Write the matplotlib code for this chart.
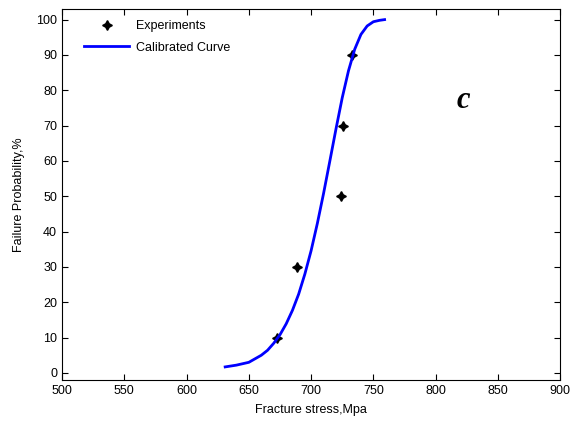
import matplotlib.pyplot as plt

# experimental points
exp_stress = [673, 689, 724, 726, 733]
exp_prob = [10, 30, 50, 70, 90]

# calibrated curve
curve_stress = [631, 640, 650, 660, 665, 670, 675, 680, 685, 690, 695, 700,
                705, 710, 715, 720, 725, 730, 735, 740, 745, 750, 755, 759]
curve_prob = [1.7, 2.2, 3.0, 5.0, 6.4, 8.4, 10.8, 13.9, 17.7, 22.3, 28.0, 34.6,
              42.3, 50.8, 59.9, 69.1, 77.9, 85.5, 91.6, 95.8, 98.2, 99.4, 99.8, 100.0]

xticks = list(range(500, 901, 50))
yticks = list(range(0, 101, 10))

plt.rcParams['font.family'] = ['Liberation Sans', 'DejaVu Sans']

fig = plt.figure(figsize=(5.71, 4.23), dpi=100)
ax = fig.add_axes([0.1086, 0.1017, 0.8725, 0.877])

ax.plot(exp_stress, exp_prob, linestyle='none', marker=(4, 1, 0),
        markersize=7, color='black', label='Experiments')
ax.plot(curve_stress, curve_prob, color='#0000ff', linewidth=2,
        label='Calibrated Curve')

ax.set_xlim(500, 900)
ax.set_ylim(-2, 103)
ax.set_xticks(xticks)
ax.set_yticks(yticks)
ax.tick_params(direction='in', top=True, right=True, labelsize=9, length=4)

ax.set_xlabel('Fracture stress,Mpa', fontsize=9, labelpad=5)
ax.set_ylabel('Failure Probability,%', fontsize=9, labelpad=8)

ax.text(822, 77, 'c', fontsize=22, fontstyle='italic', fontweight='bold',
        family='Liberation Serif', ha='center', va='center')

ax.legend(loc='upper left', bbox_to_anchor=(0.045, 0.97), frameon=False,
          fontsize=9, handlelength=3.6, handletextpad=0.5,
          borderaxespad=0, borderpad=0, labelspacing=0.75)

plt.savefig('out.png', dpi=100)
